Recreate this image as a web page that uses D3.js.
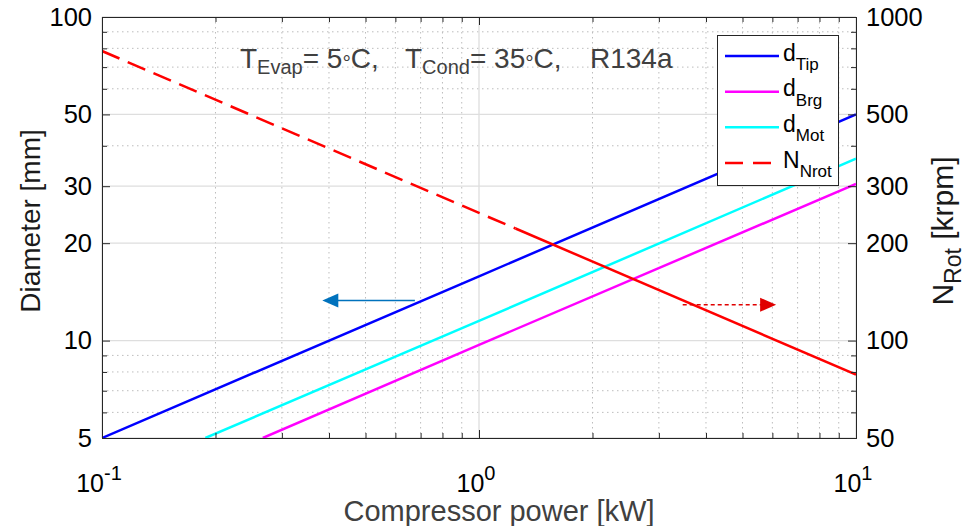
<!DOCTYPE html>
<html><head><meta charset="utf-8">
<script src="https://cdn.jsdelivr.net/npm/d3@7"></script>
<style>
body{margin:0;background:#fff}
svg text{font-family:"Liberation Sans",Arial,Helvetica,sans-serif}
</style>
</head><body>
<svg id="chart" width="974" height="526"></svg>
<script>
// ---------- data ----------
const powerTicks = [0.1, 1, 10];
const powerTickExp = ["-1", "0", "1"];
const powerMinor = [0.2,0.3,0.4,0.5,0.6,0.7,0.8,0.9,2,3,4,5,6,7,8,9];
const diamTicks = [5, 10, 20, 30, 50, 100];
const diamMinor = [6,7,8,9,40,60,70,80,90];
const speedTicks = [50, 100, 200, 300, 500, 1000];
const speedMinor = [60,70,80,90,400,600,700,800,900];

const dTipP = [0.1, 1, 10];      const dTip = [5, 15.8, 50];
const dBrgP = [0.267, 1, 10];    const dBrg = [5, 9.7, 30.5];
const dMotP = [0.188, 1, 10];    const dMot = [5, 11.5, 36.5];
const nRotDashP = [0.1, 1, 1.25]; const nRotDash = [785, 248, 222];
const nRotSolidP = [1.25, 10];   const nRotSolid = [222, 78.5];

const legendLabels = [["d","Tip"],["d","Brg"],["d","Mot"],["N","Nrot"]];
const seriesColors = ["#0000ff","#ff00ff","#00ffff","#ff0000"];

// annotation arrows (data coords)
const leftArrowP = [0.676, 0.384];  const leftArrowD = 13.3;
const rightArrowP = [3.47, 6.14];   const rightArrowN = 129;

// ---------- layout ----------
const L = 102, R = 856, T = 17, B = 438;
const svg = d3.select("#chart");
const x = d3.scaleLog().domain([0.1, 10]).range([L, R]);
const yL = d3.scaleLog().domain([5, 100]).range([B, T]);
const yR = d3.scaleLog().domain([50, 1000]).range([B, T]);

// grid
const grid = svg.append("g");
grid.selectAll(".vmin").data(powerMinor).join("line")
  .attr("x1", d => x(d)).attr("x2", d => x(d)).attr("y1", T).attr("y2", B)
  .attr("stroke", "#bdbdbd").attr("stroke-width", 1).attr("stroke-dasharray", "1.5,3.5");
grid.selectAll(".hmin").data(diamMinor).join("line")
  .attr("y1", d => yL(d)).attr("y2", d => yL(d)).attr("x1", L).attr("x2", R)
  .attr("stroke", "#bdbdbd").attr("stroke-width", 1).attr("stroke-dasharray", "1.5,3.5");
grid.selectAll(".vmaj").data(powerTicks).join("line")
  .attr("x1", d => x(d)).attr("x2", d => x(d)).attr("y1", T).attr("y2", B)
  .attr("stroke", "#dedede").attr("stroke-width", 1.3);
grid.selectAll(".hmaj").data(diamTicks).join("line")
  .attr("y1", d => yL(d)).attr("y2", d => yL(d)).attr("x1", L).attr("x2", R)
  .attr("stroke", "#dedede").attr("stroke-width", 1.3);

// clip
svg.append("clipPath").attr("id", "clip").append("rect")
  .attr("x", L).attr("y", T).attr("width", R - L).attr("height", B - T);
const plot = svg.append("g").attr("clip-path", "url(#clip)");

function pts(P, V) { return P.map((p, i) => [p, V[i]]); }
const lineL = d3.line().x(d => x(d[0])).y(d => yL(d[1]));
const lineR = d3.line().x(d => x(d[0])).y(d => yR(d[1]));

plot.append("path").attr("d", lineL(pts(dTipP, dTip))).attr("fill","none")
  .attr("stroke", seriesColors[0]).attr("stroke-width", 2.5);
plot.append("path").attr("d", lineL(pts(dBrgP, dBrg))).attr("fill","none")
  .attr("stroke", seriesColors[1]).attr("stroke-width", 2.5);
plot.append("path").attr("d", lineL(pts(dMotP, dMot))).attr("fill","none")
  .attr("stroke", seriesColors[2]).attr("stroke-width", 2.5);
plot.append("path").attr("d", lineR(pts(nRotDashP, nRotDash))).attr("fill","none")
  .attr("stroke", seriesColors[3]).attr("stroke-width", 2.5).attr("stroke-dasharray", "19,9");
plot.append("path").attr("d", lineR(pts(nRotSolidP, nRotSolid))).attr("fill","none")
  .attr("stroke", seriesColors[3]).attr("stroke-width", 2.5);

// axes
const axisColor = "#262626";
function styleAxis(g) {
  g.select(".domain").attr("stroke", axisColor).attr("stroke-width", 1);
  g.selectAll(".tick line").attr("stroke", axisColor).attr("stroke-width", 1);
  g.selectAll(".tick text").attr("fill", "#000").attr("font-size", 25.5)
    .attr("font-family", '"Liberation Sans",Arial,sans-serif');
}
// left
svg.append("g").attr("transform", `translate(${L},0)`)
  .call(d3.axisLeft(yL).tickValues(diamTicks).tickFormat(d3.format("d")).tickSize(-8).tickPadding(10))
  .call(styleAxis);
svg.append("g").attr("transform", `translate(${L},0)`)
  .call(d3.axisLeft(yL).tickValues(diamMinor).tickFormat("").tickSize(-5).tickSizeOuter(0))
  .call(styleAxis);
// right
svg.append("g").attr("transform", `translate(${R},0)`)
  .call(d3.axisRight(yR).tickValues(speedTicks).tickFormat(d3.format("d")).tickSize(-8).tickPadding(10))
  .call(styleAxis);
svg.append("g").attr("transform", `translate(${R},0)`)
  .call(d3.axisRight(yR).tickValues(speedMinor).tickFormat("").tickSize(-5).tickSizeOuter(0))
  .call(styleAxis);
// bottom
svg.append("g").attr("transform", `translate(0,${B})`)
  .call(d3.axisBottom(x).tickValues(powerTicks).tickFormat("").tickSize(-8))
  .call(styleAxis);
svg.append("g").attr("transform", `translate(0,${B})`)
  .call(d3.axisBottom(x).tickValues(powerMinor).tickFormat("").tickSize(-5).tickSizeOuter(0))
  .call(styleAxis);
// top
svg.append("g").attr("transform", `translate(0,${T})`)
  .call(d3.axisTop(x).tickValues(powerTicks).tickFormat("").tickSize(-8))
  .call(styleAxis);
svg.append("g").attr("transform", `translate(0,${T})`)
  .call(d3.axisTop(x).tickValues(powerMinor).tickFormat("").tickSize(-5).tickSizeOuter(0))
  .call(styleAxis);

// x tick labels with superscripts
const xl = svg.append("g");
powerTicks.forEach((v, i) => {
  const t = xl.append("text").attr("x", x(v) - 3).attr("y", 492)
    .attr("text-anchor", "middle").attr("font-size", 25).attr("fill", "#000");
  t.append("tspan").text("10");
  t.append("tspan").attr("dy", -12).attr("font-size", 20).text(powerTickExp[i]);
});

// axis labels
svg.append("text").attr("transform", "translate(40,221) rotate(-90)")
  .attr("text-anchor", "middle").attr("font-size", 28).attr("fill", "#1a1a1a")
  .text("Diameter [mm]");
svg.append("text").attr("x", 499).attr("y", 521)
  .attr("text-anchor", "middle").attr("font-size", 29).attr("fill", "#404040")
  .text("Compressor power [kW]");
const rl = svg.append("text").attr("transform", "translate(953,231) rotate(-90)")
  .attr("text-anchor", "middle").attr("font-size", 30).attr("fill", "#1a1a1a");
rl.append("tspan").text("N");
rl.append("tspan").attr("dy", 8).attr("font-size", 23).text("Rot");
rl.append("tspan").attr("dy", -8).text(" [krpm]");

// title annotation
const titleParts = [
  {x: 240, main: "T", sub: "Evap", rest: ["= 5", "C,"]},
  {x: 405, main: "T", sub: "Cond", rest: ["= 35", "C,"]},
  {x: 590, main: "R134a", sub: "", rest: null}
];
titleParts.forEach(p => {
  const t = svg.append("text").attr("x", p.x).attr("y", 68)
    .attr("font-size", 28).attr("fill", "#404040");
  t.append("tspan").text(p.main);
  if (p.sub) {
    t.append("tspan").attr("dy", 5.5).attr("font-size", 20).text(p.sub);
    t.append("tspan").attr("dy", -5.5).text(p.rest[0]);
    t.append("tspan").attr("dy", 2).attr("font-size", 21).text("°");
    t.append("tspan").attr("dy", -2).text(p.rest[1]);
  }
});

// arrows
svg.append("line")
  .attr("x1", x(leftArrowP[0])).attr("x2", x(leftArrowP[1]) + 15)
  .attr("y1", yL(leftArrowD)).attr("y2", yL(leftArrowD))
  .attr("stroke", "#0072bd").attr("stroke-width", 1.6);
{
  const tx = x(leftArrowP[1]), ty = yL(leftArrowD);
  svg.append("path").attr("d", `M${tx},${ty} L${tx+16},${ty-7} L${tx+16},${ty+7} Z`)
    .attr("fill", "#0072bd");
}
svg.append("line")
  .attr("x1", x(rightArrowP[0])).attr("x2", x(rightArrowP[1]) - 15)
  .attr("y1", yR(rightArrowN)).attr("y2", yR(rightArrowN))
  .attr("stroke", "#e00000").attr("stroke-width", 1.6).attr("stroke-dasharray", "4,3");
{
  const tx = x(rightArrowP[1]), ty = yR(rightArrowN);
  svg.append("path").attr("d", `M${tx},${ty} L${tx-16},${ty-7} L${tx-16},${ty+7} Z`)
    .attr("fill", "#e00000");
}

// legend
const lg = svg.append("g");
lg.append("rect").attr("x", 717.5).attr("y", 35.5).attr("width", 121).attr("height", 150)
  .attr("fill", "#fff").attr("stroke", "#262626").attr("stroke-width", 1);
const rowY = d3.scalePoint().domain(d3.range(legendLabels.length)).range([56, 163]);
legendLabels.forEach((lab, i) => {
  const yy = rowY(i);
  lg.append("line").attr("x1", 725).attr("x2", 779).attr("y1", yy).attr("y2", yy)
    .attr("stroke", seriesColors[i]).attr("stroke-width", 2.5)
    .attr("stroke-dasharray", i === 3 ? "18,10" : null);
  const t = lg.append("text").attr("x", 783).attr("y", yy + 4.5)
    .attr("font-size", 23).attr("fill", "#000");
  t.append("tspan").text(lab[0]);
  t.append("tspan").attr("dy", 9.5).attr("font-size", 17).text(lab[1]);
});
</script>
</body></html>
